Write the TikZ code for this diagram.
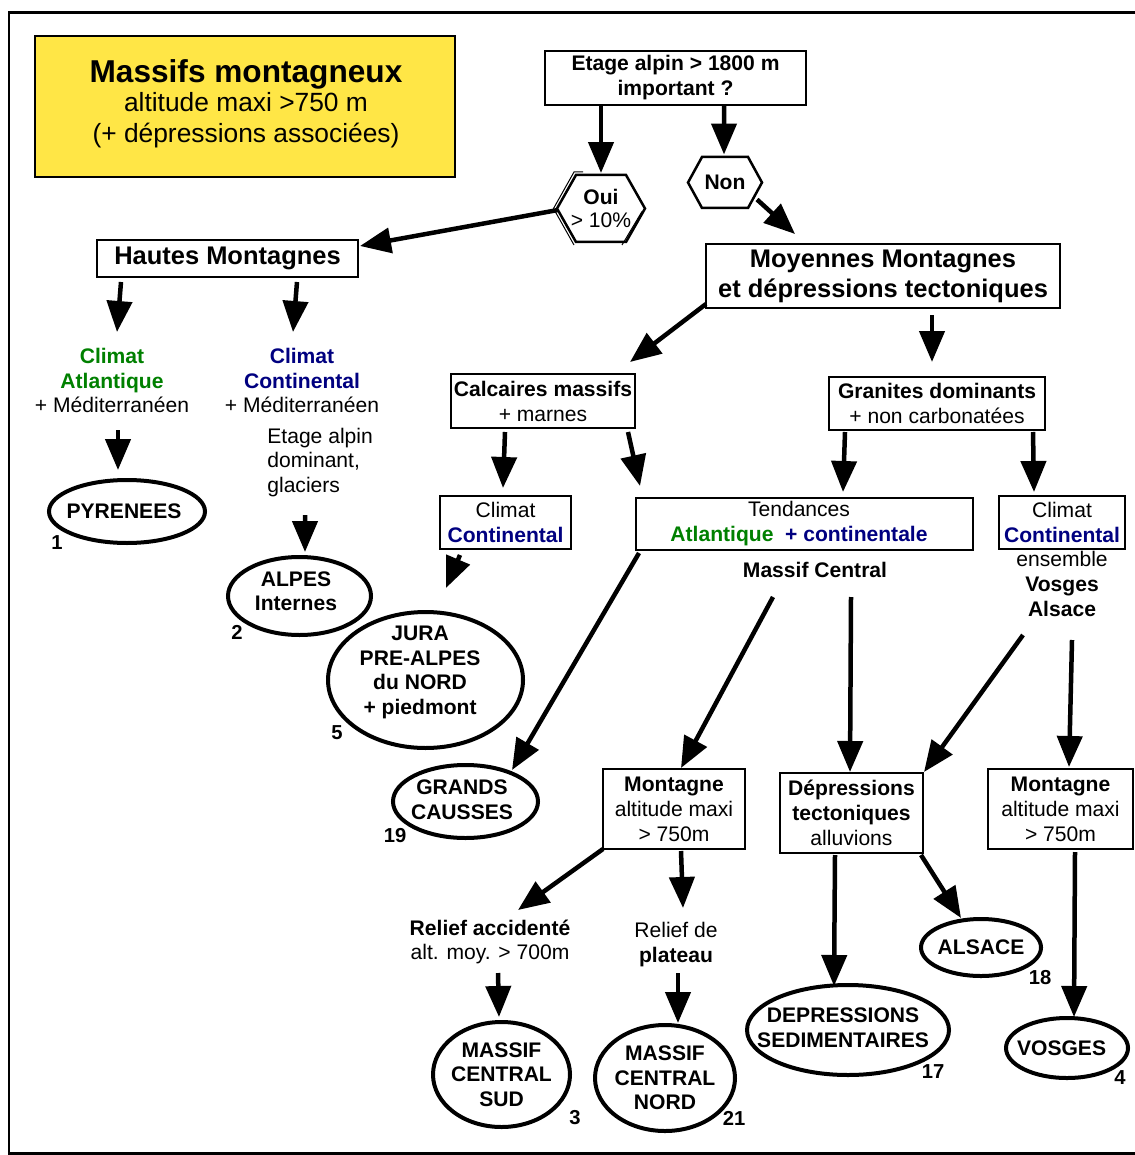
\documentclass[tikz,border=0pt]{standalone}
\usepackage{fontspec}
\setmainfont{Liberation Sans}
\usetikzlibrary{arrows.meta,shapes.geometric,calc}
\definecolor{vert}{RGB}{0,128,0}
\definecolor{marine}{RGB}{0,0,128}
\definecolor{jaune}{RGB}{255,230,70}

\begin{document}
\begin{tikzpicture}[x=0.02cm,y=-0.02cm,
  sz/.style 2 args={minimum width=#1*0.02cm,minimum height=#2*0.02cm},
  boite/.style={draw,line width=0.05cm,inner sep=0pt,align=center,font=\fontsize{12}{14.2}\selectfont},
  bulle/.style={draw,ellipse,line width=0.08cm,inner sep=0pt},
  btxt/.style={align=center,inner sep=0pt,font=\bfseries\fontsize{12}{14}\selectfont},
  txt/.style={inner sep=0pt,align=center,font=\fontsize{12}{14}\selectfont},
  num/.style={inner sep=0pt,font=\bfseries\fontsize{11.5}{13}\selectfont},
  fl/.style={line width=0.09cm,-{Triangle[length=0.62cm,width=0.5cm]}},
  hexa/.style={line width=0.05cm,line join=miter}]

\useasboundingbox (0,0) rectangle (1134,1155);

% cadre general (ouvert a droite)
\draw[line width=0.06cm] (1140,13) -- (9,13) -- (9,1153) -- (1140,1153);

% titre
\node[boite,sz={420}{141},fill=jaune,line width=0.045cm] (titre) at (245,106.5) {};
\node[inner sep=0pt,align=center,font=\fontsize{15}{17}\selectfont] (titret) at (246,104)
  {{\bfseries\fontsize{18}{20}\selectfont Massifs montagneux}\\[-0.6pt]
   altitude maxi >750 m\\[0.6pt]
   (+ dépressions associées)};

% question initiale
\node[boite,sz={261}{54},font=\bfseries\fontsize{12}{14.2}\selectfont] (etage) at (675.5,78)
  {Etage alpin > 1800 m\\important ?};

% hexagones Oui / Non
\node[txt,sz={88}{67}] (oui) at (601,208.5) {\textbf{Oui}\\[-1pt]> 10\%};
\draw[hexa] ($(oui)+(-44,0)$) -- ($(oui)+(-25,-33.5)$) -- ($(oui)+(25,-33.5)$) -- ($(oui)+(44,0)$)
  -- ($(oui)+(25,33.5)$) -- ($(oui)+(-25,33.5)$) -- cycle;
\draw[line width=0.02cm] ($(oui)+(-18,-36.5)$) -- ($(oui)+(-27,-36.5)$) -- ($(oui)+(-47.5,0)$) -- ($(oui)+(-27,36.5)$);
\draw[line width=0.02cm] ($(oui)+(21,36.5)$) -- ($(oui)+(41,3)$);

\node[txt,sz={74}{51},font=\bfseries\fontsize{12}{14}\selectfont] (non) at (725,182.5) {Non};
\draw[hexa] ($(non)+(-37,0)$) -- ($(non)+(-23,-25.5)$) -- ($(non)+(23,-25.5)$) -- ($(non)+(37,0)$)
  -- ($(non)+(23,25.5)$) -- ($(non)+(-23,25.5)$) -- cycle;

% grandes familles
\node[boite,sz={261}{37},font=\bfseries\fontsize{14.5}{17}\selectfont] (hautes) at (227.5,258.5) {Hautes Montagnes};
\node[boite,sz={354}{64},font=\bfseries\fontsize{14.5}{17}\selectfont] (moy) at (883,276)
  {Moyennes Montagnes\\et dépressions tectoniques};

% branche hautes montagnes
\node[txt] (climA) at (112,380.5)
  {\textcolor{vert}{\bfseries Climat}\\\textcolor{vert}{\bfseries Atlantique}\\+ Méditerranéen};
\node[txt] (climC) at (302,380.5)
  {\textcolor{marine}{\bfseries Climat}\\\textcolor{marine}{\bfseries Continental}\\+ Méditerranéen};
\node[txt,anchor=west,align=left,font=\fontsize{12}{13.9}\selectfont] (etalp) at (267,462.5)
  {Etage alpin\\dominant,\\glaciers};

\node[bulle,sz={156}{63},label={[btxt,xshift=-1.7pt]center:PYRENEES}] (pyr) at (127,511.5) {};
\node[bulle,sz={143}{78},label={[btxt,xshift=-2pt,yshift=2.8pt]center:{ALPES\\Internes}}] (alpes) at (299.5,596) {};

% branche moyennes montagnes
\node[boite,sz={184}{54}] (calc) at (543,401) {\textbf{Calcaires massifs}\\+ marnes};
\node[boite,sz={216}{53}] (gran) at (937,403.5) {\textbf{Granites dominants}\\+ non carbonatées};

\node[boite,sz={131}{53}] (ccl) at (505.5,522.5) {Climat\\\textcolor{marine}{\bfseries Continental}};
\node[boite,sz={337}{52}] (tend) at (804.5,524) {};
\node[txt] (tendt) at (799,523.5)
  {Tendances\\\textcolor{vert}{\bfseries Atlantique}\ \ \textcolor{marine}{\bfseries + continentale}};
\node[boite,sz={126}{53}] (ccr) at (1062,522.5) {Climat\\\textcolor{marine}{\bfseries Continental}};

\node[txt,font=\bfseries\fontsize{12}{14}\selectfont] (mc) at (815,570) {Massif Central};
\node[txt] (vos) at (1062,584) {ensemble\\\textbf{Vosges}\\\textbf{Alsace}};

\node[bulle,sz={195}{136},label={[btxt,xshift=-3.1pt,yshift=4.3pt]center:{JURA\\PRE-ALPES\\du NORD\\+ piedmont}}] (jura) at (425.5,680) {};
\node[bulle,sz={145}{73},label={[btxt,xshift=-2pt,yshift=1pt]center:{GRANDS\\CAUSSES}}] (causses) at (465.5,801.5) {};

\node[boite,sz={142}{80}] (montL) at (674,809) {\textbf{Montagne}\\altitude maxi\\> 750m};
\node[boite,sz={143}{80}] (depr) at (851.5,813) {\textbf{Dépressions}\\\textbf{tectoniques}\\alluvions};
\node[boite,sz={145}{80}] (montR) at (1060.5,809) {\textbf{Montagne}\\altitude maxi\\> 750m};

\node[txt] (relA) at (490,942) {\textbf{Relief accidenté}\\alt. moy. > 700m};
\node[txt] (relP) at (676,944.5) {Relief de\\\textbf{plateau}};

\node[bulle,sz={137}{105},label={[btxt]center:{MASSIF\\CENTRAL\\SUD}}] (mcs) at (501.5,1074.5) {};
\node[bulle,sz={140}{106},label={[btxt]center:{MASSIF\\CENTRAL\\NORD}}] (mcn) at (665,1078) {};
\node[bulle,sz={202}{90},label={[btxt,xshift=-2.8pt,yshift=1.4pt]center:{DEPRESSIONS\\SEDIMENTAIRES}}] (depsed) at (848,1030) {};
\node[bulle,sz={120}{57},label={[btxt]center:ALSACE}] (alsace) at (981,947.5) {};
\node[bulle,sz={122}{60},label={[btxt,xshift=-3.1pt]center:VOSGES}] (vosges) at (1067,1048) {};

% numeros des regions
\node[num] (n1) at (57,543) {1};
\node[num] (n2) at (237,632) {2};
\node[num] (n5) at (337,733) {5};
\node[num] (n19) at (395,836) {19};
\node[num] (n3) at (575,1118) {3};
\node[num] (n21) at (734,1118) {21};
\node[num] (n17) at (933,1072) {17};
\node[num] (n18) at (1040,978) {18};
\node[num] (n4) at (1120,1078) {4};

% fleches
\draw[fl] ($(etage)+(-74.5,27)$) -- ($(oui)+(0,-35.5)$);
\draw[fl] ($(etage)+(48.5,27)$) -- ($(non)+(-1,-28)$);
\draw[fl] ($(oui)+(-43,1.5)$) -- ($(hautes)+(132.5,-12.5)$);
\draw[fl] ($(non)+(32,17)$) -- ($(moy)+(-88,-42)$);

\draw[fl] ($(hautes)+(-106.5,23.5)$) -- ($(climA)+(5,-48.5)$);
\draw[fl] ($(hautes)+(69.5,23.5)$) -- ($(climC)+(-9,-48.5)$);
\draw[fl] ($(climA)+(6,49.5)$) -- ($(pyr)+(-9,-41.5)$);
\draw[fl] ($(etalp.west)+(38,52.5)$) -- ($(alpes)+(5.5,-44)$);

\draw[fl] ($(moy)+(-177,28)$) -- ($(calc)+(87,-39)$);
\draw[fl] ($(moy)+(49,39)$) -- ($(gran)+(-5,-41.5)$);
\draw[fl] ($(calc)+(-38,31)$) -- ($(ccl)+(-2.5,-34.5)$);
\draw[fl] ($(calc)+(85,31)$) -- ($(tend)+(-164.5,-38)$);
\draw[fl] ($(gran)+(-92,28.5)$) -- ($(tend)+(38.5,-32)$);
\draw[fl] ($(gran)+(96,28.5)$) -- ($(ccr)+(-28,-30.5)$);

\draw[fl] ($(ccl)+(-45.5,32.5)$) -- ($(jura)+(20.5,-92)$);
\draw[fl] ($(tend)+(-165.5,29)$) -- ($(causses)+(46.5,-31.5)$);
\draw[fl] ($(mc)+(-42,27)$) -- ($(montL)+(7,-41)$);
\draw[fl] ($(mc)+(36,27)$) -- ($(depr)+(-1.5,-41)$);
\draw[fl] ($(vos)+(-39,51)$) -- ($(depr)+(72.5,-41)$);
\draw[fl] ($(vos)+(10,56)$) -- ($(montR)+(8.5,-42)$);

\draw[fl] ($(montL)+(-71,40)$) -- ($(relA)+(28,-32)$);
\draw[fl] ($(montL)+(7,42)$) -- ($(relP)+(7,-36.5)$);
\draw[fl] ($(relA)+(8,31)$) -- ($(mcs)+(-2.5,-57.5)$);
\draw[fl] ($(relP)+(2,28.5)$) -- ($(mcn)+(13,-55)$);
\draw[fl] ($(depr)+(-16.5,42)$) -- ($(depsed)+(-14,-44)$);
\draw[fl] ($(depr)+(69.5,42)$) -- ($(alsace)+(-20,-29.5)$);
\draw[fl] ($(montR)+(14.5,43)$) -- ($(vosges)+(7,-31)$);

\end{tikzpicture}
\end{document}
